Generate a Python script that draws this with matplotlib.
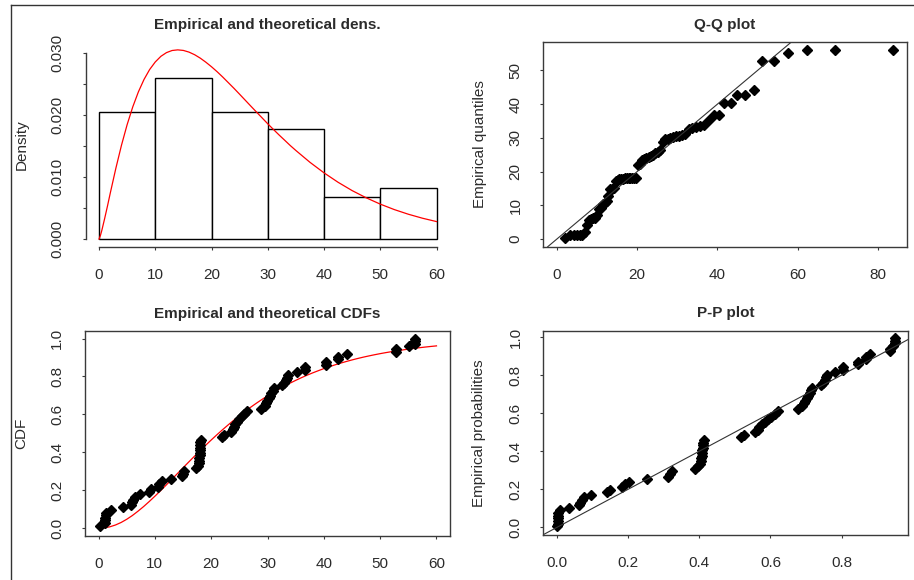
import numpy as np
import matplotlib
matplotlib.use("Agg")
import matplotlib.pyplot as plt
from matplotlib.lines import Line2D

plt.rcParams["font.family"] = ["Liberation Sans", "DejaVu Sans"]

# observed sample (sorted), n = 73
data = [
    0.2, 1.2, 1.2, 1.2, 1.3, 1.3, 2.2, 4.3, 5.8, 6.0, 6.2, 6.4, 7.3, 9.0, 9.3,
    10.5, 10.8, 11.2, 12.9, 14.8, 15.0, 15.2, 17.3, 17.6,
    17.8, 17.9, 17.9, 18.0, 18.0, 18.0, 18.1, 18.1, 18.1, 18.2,
    22.0, 22.3, 23.5, 23.8, 24.0, 24.3, 24.6, 25.0, 25.4, 25.9, 26.3, 28.9,
    29.6, 29.8, 29.9,
    30.3, 30.5, 30.7, 30.9, 31.1, 32.5, 32.9, 33.2, 33.4, 33.7, 35.2, 36.7, 36.7,
    40.3, 40.3, 42.6, 42.6, 44.1,
    52.9, 52.9, 55.1, 56.1, 56.1, 56.1,
]
hist_breaks = [0, 10, 20, 30, 40, 50, 60]

# fitted (gamma) density
dens_x = [0, 0.25, 0.5, 1, 1.5, 2, 3, 4, 5, 6, 7, 8, 9, 10, 11, 12, 13, 14, 15,
          16, 17, 18, 19, 20, 21, 22, 23, 24, 25, 26, 27, 28, 29, 30, 31, 32,
          33, 34, 35, 37.5, 40, 42.5, 45, 47.5, 50, 52.5, 55, 57.5, 60]
dens_y = [0, 0.00058, 0.0014, 0.0033, 0.0053, 0.0074, 0.01143, 0.01514,
          0.01844, 0.0213, 0.02372, 0.02572, 0.02732, 0.02854, 0.02945,
          0.03005, 0.03039, 0.03049, 0.0304, 0.03013, 0.02971, 0.02916,
          0.0285, 0.02777, 0.02697, 0.02611, 0.0252, 0.02429, 0.02334,
          0.02238, 0.02142, 0.02047, 0.01953, 0.01858, 0.01768, 0.01679,
          0.01594, 0.01508, 0.01428, 0.01238, 0.01068, 0.00916, 0.00782,
          0.00666, 0.00564, 0.00476, 0.00401, 0.00337, 0.00283]

# fitted CDF at x = 0..60
cdf_x = list(range(0, 61))
cdf_y = [0, 0.0015, 0.0068, 0.0164, 0.0296, 0.0465, 0.0663, 0.0891, 0.1136,
         0.1402, 0.1681, 0.1971, 0.2269, 0.2571, 0.2876, 0.3181, 0.3483,
         0.3783, 0.4077, 0.4366, 0.4647, 0.4921, 0.5186, 0.5442, 0.569,
         0.5928, 0.6157, 0.6376, 0.6585, 0.6785, 0.6976, 0.7157, 0.7329,
         0.7493, 0.7648, 0.7795, 0.7934, 0.8065, 0.8188, 0.8303, 0.8416,
         0.8518, 0.8615, 0.8707, 0.8792, 0.8873, 0.8949, 0.902, 0.9085,
         0.9147, 0.9205, 0.9259, 0.9309, 0.9356, 0.9401, 0.9443, 0.9482,
         0.9519, 0.9553, 0.9585, 0.9615]

# theoretical quantiles at ppoints(73)
theo_quant = [
    2.0, 3.31, 4.28, 5.07, 5.76, 6.40, 7.0, 7.56, 8.11, 8.62, 9.13, 9.62,
    10.11, 10.58, 11.05, 11.51, 11.97, 12.42, 12.88, 13.33, 13.78, 14.23,
    14.68, 15.13, 15.58, 16.03, 16.49, 16.95, 17.41, 17.88, 18.35, 18.82,
    19.31, 19.79, 20.29, 20.79, 21.30, 21.82, 22.34, 22.88, 23.43, 23.98,
    24.55, 25.14, 25.73, 26.35, 26.97, 27.63, 28.30, 28.98, 29.70, 30.44,
    31.20, 32.0, 32.84, 33.71, 34.63, 35.59, 36.61,
    37.9, 39.1, 40.5, 41.7, 43.3, 45.0, 46.8, 49.0, 51.2, 54.1, 57.7, 62.2,
    69.3, 83.8,
]

# theoretical CDF evaluated at the observations
theo_prob = [
    0.0000, 0.0023, 0.0023, 0.0023, 0.0027, 0.0027, 0.0087, 0.0347, 0.0623,
    0.0663, 0.0709, 0.0754, 0.0965, 0.1402, 0.1486, 0.1826, 0.1913, 0.2031,
    0.2541, 0.3120, 0.3181, 0.3241, 0.3871, 0.3959, 0.4018, 0.4048, 0.4048,
    0.4077, 0.4077, 0.4077, 0.4106, 0.4106, 0.4106, 0.4135, 0.5186, 0.5263,
    0.5566, 0.5640, 0.5690, 0.5761, 0.5833, 0.5928, 0.6020, 0.6134, 0.6223,
    0.6765, 0.6900, 0.6938, 0.6957, 0.7030, 0.7067, 0.7103, 0.7139, 0.7174,
    0.7411, 0.7477, 0.7524, 0.7555, 0.7602, 0.7823, 0.8026, 0.8026, 0.8447,
    0.8447, 0.8670, 0.8670, 0.8800, 0.9356, 0.9356, 0.9453, 0.9492, 0.9492,
    0.9492,
]

n = len(data)
emp_cdf = np.arange(1, n + 1) / n
emp_pp = (np.arange(1, n + 1) - 0.5) / n

txt = "#2b2b2b"
line_c = "#3a3a3a"
fs = 11
ms = 4.6

fig = plt.figure(figsize=(9.14, 5.8), dpi=100)
W, H = 914.0, 580.0


def add_ax(left, top, right, bottom):
    return fig.add_axes([left / W, 1 - bottom / H, (right - left) / W, (bottom - top) / H])


ax_d = add_ax(85.5, 42.3, 450, 246.7)
ax_q = add_ax(543.3, 42.3, 906.7, 246.7)
ax_c = add_ax(85.0, 331.0, 450, 535.7)
ax_p = add_ax(543.3, 330.7, 908.3, 535.0)


def style(ax, title, ylabel, boxed=True):
    ax.use_sticky_edges = False
    ax.margins(0.04)
    for s in ax.spines.values():
        s.set_color(line_c)
        s.set_linewidth(1.0)
        s.set_visible(boxed)
    ax.tick_params(which="both", direction="out", length=2.5, width=0.8,
                   color=line_c, labelsize=fs, labelcolor=txt)
    ax.tick_params(axis="x", pad=12.5)
    ax.tick_params(axis="y", pad=12.5, labelrotation=90)
    ax.text(0.5, 1.085, title, transform=ax.transAxes, ha="center", va="center",
            fontsize=fs, fontweight="bold", color=txt)
    ax.set_ylabel(ylabel, fontsize=fs, color=txt, va="center")
    ax.yaxis.set_label_coords(-0.175, 0.5)


# density panel
ax_d.hist(data, bins=hist_breaks, density=True, facecolor="white",
          edgecolor="black", linewidth=1.0)
ax_d.plot(dens_x, dens_y, color="red", lw=0.9)
style(ax_d, "Empirical and theoretical dens.", "Density", boxed=False)
ax_d.spines["left"].set_visible(True)
ax_d.spines["bottom"].set_visible(True)
ax_d.spines["left"].set_bounds(0, 0.03)
ax_d.spines["bottom"].set_bounds(0, 60)
ax_d.set_xticks(range(0, 61, 10))
ax_d.set_yticks([0, 0.01, 0.02, 0.03])
ax_d.set_yticklabels(["0.000", "0.010", "0.020", "0.030"])
ax_d.set_yticks(np.arange(0.005, 0.03, 0.01), minor=True)

# Q-Q panel
ax_q.plot(theo_quant, data, ls="none", marker="D", ms=ms, color="black")
ax_q.axline((0, 0), slope=1, color="#333333", lw=0.8)
style(ax_q, "Q-Q plot", "Empirical quantiles")
ax_q.set_xticks(range(0, 81, 20))
ax_q.set_yticks(range(0, 51, 10))

# CDF panel
ax_c.plot(cdf_x, cdf_y, color="red", lw=0.9)
ax_c.plot(data, emp_cdf, ls="none", marker="D", ms=ms, color="black")
style(ax_c, "Empirical and theoretical CDFs", "CDF")
ax_c.set_xticks(range(0, 61, 10))
ax_c.set_yticks(np.arange(0, 1.01, 0.2))
ax_c.set_yticklabels([f"{v:.1f}" for v in np.arange(0, 1.01, 0.2)])

# P-P panel
ax_p.plot(theo_prob, emp_pp, ls="none", marker="D", ms=ms, color="black")
ax_p.axline((0, 0), slope=1, color="#333333", lw=0.8)
style(ax_p, "P-P plot", "Empirical probabilities")
ax_p.set_xticks(np.arange(0, 0.81, 0.2))
ax_p.set_xticklabels([f"{v:.1f}" for v in np.arange(0, 0.81, 0.2)])
ax_p.set_yticks(np.arange(0, 1.01, 0.2))
ax_p.set_yticklabels([f"{v:.1f}" for v in np.arange(0, 1.01, 0.2)])

for ax in (ax_d, ax_q, ax_c, ax_p):
    plt.setp(ax.get_yticklabels(), va="center")

# window frame edges
fig.add_artist(Line2D([11 / W, 1], [1 - 5 / H, 1 - 5 / H], color="#333333", lw=1.0))
fig.add_artist(Line2D([11 / W, 11 / W], [0, 1 - 5 / H], color="#333333", lw=1.0))

fig.savefig("out.png", dpi=100)
